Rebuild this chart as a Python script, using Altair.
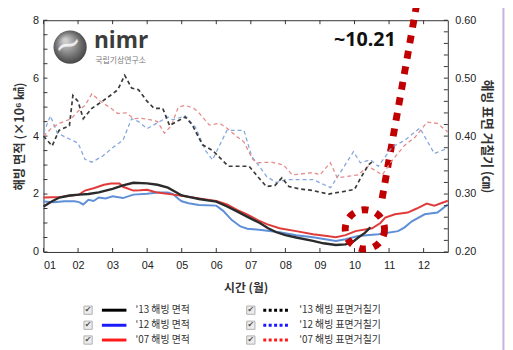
import altair as alt
import pandas as pd

FONT = "Liberation Sans, Noto Sans CJK KR, sans-serif"
KFONT = "Noto Sans CJK KR, sans-serif"

# ---- sea-ice extent (x10^6 km2), left axis ----
ext13_m = [1.0, 1.25, 1.46, 1.75, 2.03, 2.3, 2.6, 3.0, 3.3, 3.6, 4.0, 4.3, 4.6, 4.85, 5.0, 5.2, 5.5, 5.75,
           6.0, 6.3, 6.6, 6.89, 7.26, 7.5, 7.74, 8.0, 8.31, 8.8, 9.1, 9.46, 9.74, 9.95, 10.11, 10.3, 10.46]
ext13_v = [1.57, 1.75, 1.88, 1.95, 1.98, 2.0, 2.06, 2.18, 2.3, 2.39, 2.37, 2.32, 2.22, 2.05, 1.95, 1.9, 1.83, 1.78,
           1.74, 1.58, 1.4, 1.22, 1.0, 0.82, 0.68, 0.58, 0.5, 0.38, 0.3, 0.24, 0.26, 0.35, 0.5, 0.66, 0.85]

ext12_m = [1.0, 1.3, 1.6, 1.9, 2.03, 2.15, 2.3, 2.45, 2.6, 2.8, 3.0, 3.3, 3.6, 4.0, 4.3, 4.6, 4.75, 4.9, 5.0,
           5.2, 5.5, 6.0, 6.2, 6.45, 6.7, 6.9, 7.3, 7.83, 8.31, 8.8, 9.46, 9.74, 10.11, 10.69, 11.26, 11.45,
           11.66, 12.03, 12.4, 12.7]
ext12_v = [1.74, 1.72, 1.75, 1.75, 1.72, 1.64, 1.8, 1.76, 1.88, 1.85, 1.92, 1.86, 1.98, 2.01, 2.05, 2.05, 2.0,
           1.84, 1.75, 1.68, 1.62, 1.6, 1.42, 1.1, 0.88, 0.8, 0.76, 0.68, 0.58, 0.51, 0.38, 0.44, 0.55, 0.61,
           0.72, 0.85, 1.06, 1.3, 1.36, 1.64]

ext07_m = [1.0, 1.5, 2.03, 2.2, 2.45, 2.75, 2.95, 3.2, 3.3, 3.6, 3.8, 4.0, 4.2, 4.3, 4.75, 5.0, 5.5, 6.0, 6.31,
           6.6, 6.89, 7.2, 7.46, 7.83, 8.31, 8.8, 9.2, 9.46, 9.74, 10.03, 10.51, 10.75, 10.89, 11.17, 11.54,
           11.8, 12.09, 12.31, 12.7]
ext07_v = [1.88, 1.9, 1.98, 2.12, 2.2, 2.32, 2.36, 2.36, 2.25, 2.12, 2.13, 2.15, 2.08, 2.05, 1.98, 1.94, 1.85,
           1.76, 1.64, 1.45, 1.3, 1.1, 0.96, 0.82, 0.72, 0.61, 0.55, 0.51, 0.58, 0.72, 0.82, 1.0, 1.19, 1.3,
           1.36, 1.5, 1.67, 1.6, 1.77]

# ---- sea-ice surface roughness (cm), right axis ----
rgh13_m = [1.0, 1.25, 1.45, 1.75, 1.85, 2.0, 2.15, 2.4, 2.7, 3.0, 3.15, 3.35, 3.55, 3.75, 4.0, 4.2, 4.45, 4.65,
           4.85, 5.1, 5.3, 5.6, 5.9, 6.1, 6.35, 6.65, 6.95, 7.2, 7.45, 7.7, 7.9, 8.1, 8.4, 8.8, 9.25, 9.65,
           10.0, 10.2, 10.4, 10.5]
rgh13_v = [0.400, 0.383, 0.410, 0.418, 0.470, 0.460, 0.430, 0.448, 0.460, 0.473, 0.480, 0.505, 0.483, 0.480,
           0.460, 0.448, 0.448, 0.418, 0.425, 0.433, 0.420, 0.385, 0.375, 0.363, 0.348, 0.348, 0.348, 0.330,
           0.313, 0.315, 0.328, 0.313, 0.309, 0.306, 0.300, 0.304, 0.308, 0.330, 0.350, 0.355]

rgh12_m = [1.0, 1.2, 1.4, 1.75, 2.0, 2.2, 2.4, 2.7, 3.0, 3.3, 3.55, 3.75, 4.0, 4.3, 4.6, 4.75, 5.1, 5.4, 5.69,
           5.89, 6.31, 6.8, 7.03, 7.17, 7.46, 7.74, 8.03, 8.8, 9.31, 9.97, 10.17, 10.46, 10.69, 11.09, 11.46,
           11.89, 12.31, 12.69]
rgh12_v = [0.405, 0.435, 0.405, 0.395, 0.388, 0.360, 0.355, 0.365, 0.380, 0.393, 0.430, 0.425, 0.413, 0.423,
           0.433, 0.428, 0.435, 0.415, 0.375, 0.359, 0.410, 0.410, 0.364, 0.354, 0.330, 0.320, 0.325, 0.325,
           0.311, 0.373, 0.354, 0.359, 0.348, 0.381, 0.393, 0.414, 0.370, 0.379]

rgh07_m = [1.0, 1.25, 1.5, 1.8, 2.0, 2.2, 2.4, 2.65, 2.95, 3.15, 3.4, 3.6, 3.8, 4.1, 4.3, 4.5, 4.7, 4.9, 5.1,
           5.35, 5.5, 5.8, 6.1, 6.3, 6.6, 6.8, 7.05, 7.2, 7.6, 7.95, 8.2, 8.8, 9.0, 9.3, 9.5, 9.75, 10.1, 10.4,
           10.8, 11.1, 11.45, 11.75, 12.1, 12.4, 12.7]
rgh07_v = [0.400, 0.415, 0.423, 0.430, 0.443, 0.453, 0.473, 0.460, 0.448, 0.439, 0.440, 0.430, 0.431, 0.428,
           0.425, 0.405, 0.418, 0.450, 0.453, 0.448, 0.440, 0.419, 0.422, 0.414, 0.399, 0.390, 0.360, 0.354,
           0.355, 0.350, 0.333, 0.337, 0.333, 0.354, 0.328, 0.330, 0.333, 0.348, 0.333, 0.359, 0.384, 0.398,
           0.424, 0.422, 0.407]

# ---- axis tick values / labels ----
month_ticks = list(range(1, 13))
left_labels = [0, 2, 4, 6, 8]
right_labels = [0.2, 0.3, 0.4, 0.5, 0.6]
left_minor = [i * 0.5 for i in range(17)]
right_minor = [round(0.2 + 0.02 * i, 2) for i in range(21)]

# ---- legend ----
leg_labels = ["'13 해빙 면적", "'12 해빙 면적", "'07 해빙 면적",
              "'13 해빙 표면거칠기", "'12 해빙 표면거칠기", "'07 해빙 표면거칠기"]
leg_colors = ["#000000", "#1a1aff", "#ff1a1a", "#000000", "#1a1aff", "#ff1a1a"]
leg_rows = [-2.01, -2.53, -3.04, -2.01, -2.53, -3.04]
leg_box_m = [2.29, 2.29, 2.29, 7.0, 7.0, 7.0]
leg_sym_m = [2.69, 2.69, 2.69, 7.36, 7.36, 7.36]
leg_sym_m2 = [3.40, 3.40, 3.40, 8.08, 8.08, 8.08]
leg_txt_m = [3.66, 3.66, 3.66, 8.40, 8.40, 8.40]

X0, X1 = 1.0, 12.7
xscale = alt.Scale(domain=[X0, X1], nice=False, zero=False)
yLscale = alt.Scale(domain=[0, 8], nice=False, zero=False)
yRscale = alt.Scale(domain=[0.2, 0.6], nice=False, zero=False)

xaxis = alt.Axis(values=month_ticks,
                 labelExpr="datum.value < 10 ? '0' + datum.value : '' + datum.value",
                 title="시간 (월)", grid=False, ticks=False, domain=False, labelPadding=8,
                 titlePadding=12, labelFontSize=11, titleFontSize=12)
yLaxis = alt.Axis(values=left_labels, title="해빙 면적 (×10⁶ ㎢)", grid=False, ticks=False,
                  domain=False, labelPadding=5, titlePadding=6, labelFontSize=11, titleFontSize=12.5)
yRaxis = alt.Axis(values=right_labels, format=".2f", orient="right", title="해빙  표면  거칠기  (㎝)",
                  grid=False, ticks=False, domain=False, labelPadding=7, titlePadding=4,
                  labelFontSize=11, titleFontSize=13)


def XE(f="m"):
    return alt.X(f"{f}:Q", scale=xscale, axis=xaxis)


def YL(f="v"):
    return alt.Y(f"{f}:Q", scale=yLscale, axis=yLaxis)


def YR(f="v"):
    return alt.Y(f"{f}:Q", scale=yRscale, axis=yRaxis)


def df(m, v):
    return pd.DataFrame({"m": m, "v": v})


# ---------- left group ----------
left_layers = []
for m, v, c, w in [(ext12_m, ext12_v, "#5f8fd6", 2.0), (ext07_m, ext07_v, "#e03a3a", 2.0),
                   (ext13_m, ext13_v, "#2b2b2b", 2.4)]:
    left_layers.append(alt.Chart(df(m, v)).mark_line(color=c, strokeWidth=w).encode(x=XE(), y=YL()))

tick_dm = 4 / 35.04
tick_dv = 4 / 29.375
left_layers.append(alt.Chart(pd.DataFrame({"v": left_minor, "m": X0, "m2": X0 + tick_dm}))
                   .mark_rule(color="#333", strokeWidth=1)
                   .encode(x=XE(), x2="m2:Q", y=YL()))
bt = pd.DataFrame({"m": month_ticks, "v": 0.0, "v2": tick_dv})
left_layers.append(alt.Chart(bt).mark_rule(color="#333", strokeWidth=1).encode(x=XE(), y=YL(), y2="v2:Q"))
tt = pd.DataFrame({"m": month_ticks, "v": 8.0, "v2": 8 - tick_dv})
left_layers.append(alt.Chart(tt).mark_rule(color="#333", strokeWidth=1).encode(x=XE(), y=YL(), y2="v2:Q"))

# logo
left_layers.append(alt.Chart(df([1.77], [7.07])).mark_point(
    shape="circle", filled=True, size=1134, opacity=1,
    fill=alt.RadialGradient(gradient="radial", x1=0.35, y1=0.3, x2=0.5, y2=0.5, r1=0.05, r2=0.6,
                            stops=[alt.GradientStop(offset=0, color="#cfcfcf"),
                                   alt.GradientStop(offset=0.6, color="#6e6e6e"),
                                   alt.GradientStop(offset=1, color="#333333")])
).encode(x=XE(), y=YL()))
left_layers.append(alt.Chart(df([1.72], [7.12])).mark_text(
    text="~", font="DejaVu Sans", fontSize=34, color="#ffffff", opacity=0.8, angle=340,
    align="center", baseline="middle").encode(x=XE(), y=YL()))
left_layers.append(alt.Chart(df([2.46], [7.05])).mark_text(
    text="nimr", font="Open Sans", fontWeight="bold", fontSize=23, color="#3c3c3c",
    align="left", baseline="alphabetic").encode(x=XE(), y=YL()))
left_layers.append(alt.Chart(df([2.5], [6.72])).mark_text(
    text="국립기상연구소", font=KFONT, fontSize=8, color="#777777",
    align="left", baseline="top").encode(x=XE(), y=YL()))

# annotations
left_layers.append(alt.Chart(df([10.3], [7.3])).mark_text(
    text="~10.21", font="Noto Sans, Open Sans, sans-serif", fontWeight="bold", fontSize=20,
    color="#111111", align="center", baseline="middle").encode(x=XE(), y=YL()))
left_layers.append(alt.Chart(df([10.8, 11.8], [1.85, 8.55]))
                   .mark_line(color="#c00000", strokeWidth=7, strokeDash=[8, 8], strokeCap="butt")
                   .encode(x=XE(), y=YL()))
left_layers.append(alt.Chart(df([10.3], [0.78])).mark_point(
    shape="circle", filled=False, size=1590, color="#c00000", strokeWidth=7, opacity=1,
    strokeDash=[7, 8]).encode(x=XE(), y=YL()))

# page border line (purple)
left_layers.append(alt.Chart(pd.DataFrame({"m": [14.31], "v": [8.7], "v2": [-3.5]})).mark_rule(
    color="#c2b3e2", strokeWidth=2).encode(x=XE(), y=YL(), y2="v2:Q"))

# legend
leg = pd.DataFrame({"label": leg_labels, "color": leg_colors, "v": leg_rows, "mb": leg_box_m,
                    "m": leg_sym_m, "m2": leg_sym_m2, "mt": leg_txt_m,
                    "kind": ["solid"] * 3 + ["dot"] * 3})
left_layers.append(alt.Chart(leg).mark_point(shape="square", filled=True, size=70, fill="#ececec",
                                             stroke="#b0b0b0", strokeWidth=1, opacity=1)
                   .encode(x=XE("mb"), y=YL()))
left_layers.append(alt.Chart(leg).mark_text(text="✔", font="DejaVu Sans", fontSize=8, color="#555",
                                            align="center", baseline="middle")
                   .encode(x=XE("mb"), y=YL()))
left_layers.append(alt.Chart(leg).transform_filter("datum.kind == 'solid'")
                   .mark_rule(strokeWidth=3)
                   .encode(x=XE(), x2="m2:Q", y=YL(), color=alt.Color("color:N", scale=None)))
left_layers.append(alt.Chart(leg).transform_filter("datum.kind == 'dot'")
                   .mark_rule(strokeWidth=3, strokeDash=[3, 2.5], strokeCap="butt")
                   .encode(x=XE(), x2="m2:Q", y=YL(), color=alt.Color("color:N", scale=None)))
left_layers.append(alt.Chart(leg).mark_text(font=KFONT, fontSize=10, color="#333", align="left",
                                            baseline="middle")
                   .encode(x=XE("mt"), y=YL(), text="label:N"))

left = alt.layer(*left_layers)

# ---------- right group ----------
right_layers = []
for m, v, c, w in [(rgh12_m, rgh12_v, "#85a8dc", 1.3), (rgh07_m, rgh07_v, "#e48c8c", 1.3),
                   (rgh13_m, rgh13_v, "#3a3a3a", 1.7)]:
    right_layers.append(alt.Chart(df(m, v)).mark_line(color=c, strokeWidth=w, strokeDash=[4, 3])
                        .encode(x=XE(), y=YR()))
right_layers.append(alt.Chart(pd.DataFrame({"v": right_minor, "m": X1 - tick_dm, "m2": X1}))
                    .mark_rule(color="#333", strokeWidth=1)
                    .encode(x=XE(), x2="m2:Q", y=YR()))
right = alt.layer(*right_layers)

chart = (alt.layer(left, right)
         .resolve_scale(y="independent")
         .properties(width=410, height=235,
                     padding={"left": 36, "top": 10, "right": 58, "bottom": 97},
                     autosize=alt.AutoSizeParams(type="none"))
         .configure_view(stroke="#333", strokeWidth=1)
         .configure_axis(labelFont=FONT, labelColor="#222", titleFont=KFONT, titleColor="#333",
                         titleFontWeight="bold"))

chart.save("out.html", embed_options={"renderer": "svg", "actions": False})
